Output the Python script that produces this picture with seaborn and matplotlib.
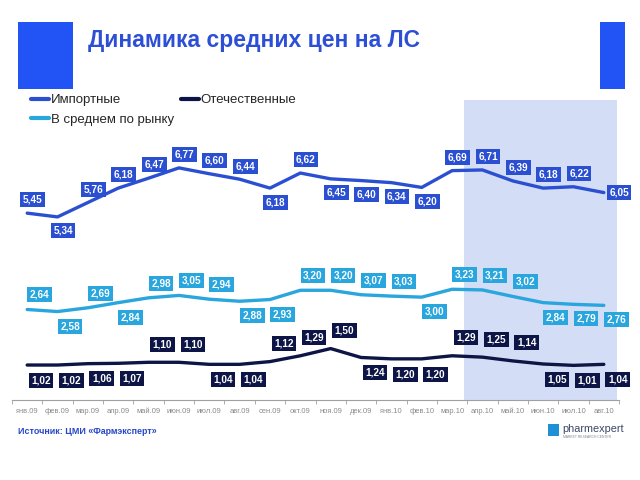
import numpy as np
import pandas as pd
import seaborn as sns
import matplotlib.pyplot as plt
from matplotlib.patches import Rectangle

# данные
months = ['янв.09', 'фев.09', 'мар.09', 'апр.09', 'май.09', 'июн.09', 'июл.09', 'авг.09',
          'сен.09', 'окт.09', 'ноя.09', 'дек.09', 'янв.10', 'фев.10', 'мар.10', 'апр.10',
          'май.10', 'июн.10', 'июл.10', 'авг.10']
imported = [5.45, 5.34, 5.76, 6.18, 6.47, 6.77, 6.60, 6.44, 6.18, 6.62,
            6.45, 6.40, 6.34, 6.20, 6.69, 6.71, 6.39, 6.18, 6.22, 6.05]
average = [2.64, 2.58, 2.69, 2.84, 2.98, 3.05, 2.94, 2.88, 2.93, 3.20,
           3.20, 3.07, 3.03, 3.00, 3.23, 3.21, 3.02, 2.84, 2.79, 2.76]
domestic = [1.02, 1.02, 1.06, 1.07, 1.10, 1.10, 1.04, 1.04, 1.12, 1.29,
            1.50, 1.24, 1.20, 1.20, 1.29, 1.25, 1.14, 1.05, 1.01, 1.04]
series_names = ['Импортные', 'В среднем по рынку', 'Отечественные']

# расположение подписей: a - сверху, b - снизу, r - справа
imp_pos = 'abaaaaaababbbbaaaaar'
avg_pos = 'ababaaabbaaaabaaabbb'
dom_pos = 'bbbbaabbaaabbbaaabbb'

c_imp = '#2b4fd1'
c_avg = '#29a6dd'
c_dom = '#0c1545'
c_title = '#2d4fd6'

sns.set_style('white')
plt.rcParams['font.family'] = ['Liberation Sans', 'DejaVu Sans']

df = pd.DataFrame({
    'x': list(range(len(months))) * 3,
    'value': imported + average + domestic,
    'series': [series_names[0]] * len(months) + [series_names[1]] * len(months) + [series_names[2]] * len(months),
})

fig = plt.figure(figsize=(6.4, 4.8), dpi=100)
ax = fig.add_axes([12 / 640, 80 / 480, 607 / 640, 300 / 480])

# выделенный период
ax.axvspan(14.4, 19.45, color='#d3ddf6', lw=0, zorder=0)

sns.lineplot(data=df, x='x', y='value', hue='series', hue_order=series_names,
             palette=[c_imp, c_avg, c_dom], linewidth=2.4, ax=ax, legend=False,
             solid_joinstyle='round', solid_capstyle='round', zorder=3)


def put_labels(vals, pos, color, dx, up, down):
    for i, (v, p) in enumerate(zip(vals, pos)):
        if p == 'a':
            off = (dx, up)
        elif p == 'b':
            off = (dx, down)
        else:
            off = (11, 0)
        ax.annotate(f'{v:.2f}'.replace('.', ','), (i, v), xytext=off, textcoords='offset points',
                    ha='center', va='center', fontsize=7.2, fontweight='bold', color='white',
                    bbox=dict(boxstyle='square,pad=0.25', fc=color, ec='none'), zorder=5)


put_labels(imported, imp_pos, c_imp, 4, 9.5, -10)
put_labels(average, avg_pos, c_avg, 9, 10.5, -10.5)
put_labels(domestic, dom_pos, c_dom, 10, 13, -11)

ax.set_xlim(-0.5, 19.5)
ax.set_ylim(0, 8.75)
ax.set_xlabel('')
ax.set_ylabel('')
ax.set_yticks([])
ax.set_xticks(range(len(months)))
ax.set_xticklabels(months, fontsize=5.4, color='#8a8a8a')
ax.set_xticks(np.arange(-0.5, 20, 1), minor=True)
ax.tick_params(axis='x', which='major', length=0, pad=6)
ax.tick_params(axis='x', which='minor', length=3, color='#a0a0a0', width=0.6, direction='out', bottom=True)
for s in ['top', 'right', 'left']:
    ax.spines[s].set_visible(False)
ax.spines['bottom'].set_color('#a0a0a0')
ax.spines['bottom'].set_linewidth(0.8)

# легенда
handles = [plt.Line2D([], [], color=c, lw=3) for c in [c_imp, c_avg, c_dom]]
fig.legend(handles, series_names, loc='upper left', bbox_to_anchor=(31 / 640, 1 - 94 / 480),
           ncol=2, frameon=False, fontsize=9.5, handlelength=1.4, handletextpad=0.1,
           columnspacing=0.5, labelspacing=0.55, borderpad=0, borderaxespad=0)

# заголовок и оформление слайда
fig.patches.append(Rectangle((18 / 640, 1 - 89 / 480), 55 / 640, 67 / 480,
                             transform=fig.transFigure, fc='#2253f5', ec='none'))
fig.patches.append(Rectangle((600 / 640, 1 - 89 / 480), 25 / 640, 67 / 480,
                             transform=fig.transFigure, fc='#2253f5', ec='none'))
fig.text(88 / 640, 1 - 41 / 480, 'Динамика средних цен на ЛС', fontsize=16.5,
         fontweight='bold', color=c_title, va='center', ha='left')

fig.text(18 / 640, 1 - 432 / 480, 'Источник: ЦМИ «Фармэксперт»', fontsize=6.4,
         fontweight='bold', color='#2747c8', va='center', ha='left')

# логотип
fig.patches.append(Rectangle((548 / 640, 1 - 436 / 480), 11 / 640, 12 / 480,
                             transform=fig.transFigure, fc='#1f8fd6', ec='none'))
fig.text(562 / 640, 1 - 429 / 480, 'pharmexpert', fontsize=7.8, color='#3b4766',
         va='center', ha='left')
fig.text(563 / 640, 1 - 437 / 480, 'MARKET RESEARCH CENTER', fontsize=2.4, color='#7a8499',
         va='center', ha='left')

fig.savefig('out.png', dpi=100)
